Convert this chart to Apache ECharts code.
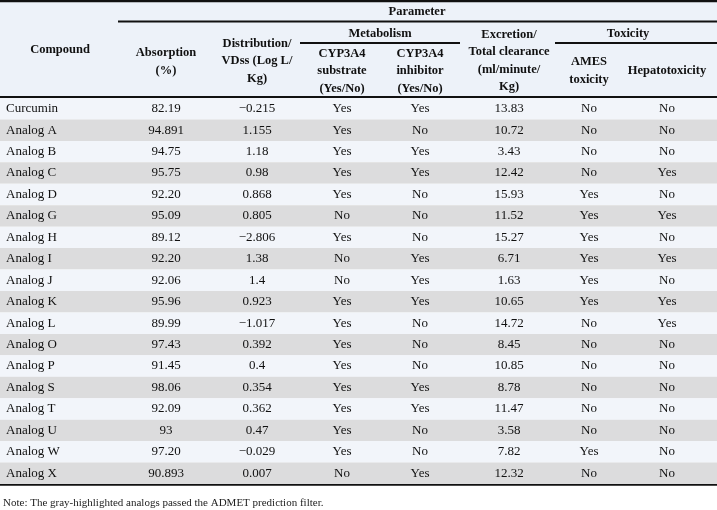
<!DOCTYPE html>
<html><head><meta charset="utf-8">
<script src="https://cdn.jsdelivr.net/npm/echarts@6/dist/echarts.min.js"></script>
<style>html,body{margin:0;padding:0;background:#fff}#c{width:717px;height:510px}</style>
</head><body><div id="c"></div>
<script>
const compounds=["Curcumin","Analog A","Analog B","Analog C","Analog D","Analog G","Analog H","Analog I","Analog J","Analog K","Analog L","Analog O","Analog P","Analog S","Analog T","Analog U","Analog W","Analog X"];
const absorption=["82.19","94.891","94.75","95.75","92.20","95.09","89.12","92.20","92.06","95.96","89.99","97.43","91.45","98.06","92.09","93","97.20","90.893"];
const distribution=["\u22120.215","1.155","1.18","0.98","0.868","0.805","\u22122.806","1.38","1.4","0.923","\u22121.017","0.392","0.4","0.354","0.362","0.47","\u22120.029","0.007"];
const cypSubstrate=["Yes","Yes","Yes","Yes","Yes","No","Yes","No","No","Yes","Yes","Yes","Yes","Yes","Yes","Yes","Yes","No"];
const cypInhibitor=["Yes","No","Yes","Yes","No","No","No","Yes","Yes","Yes","No","No","No","Yes","Yes","No","No","Yes"];
const excretion=["13.83","10.72","3.43","12.42","15.93","11.52","15.27","6.71","1.63","10.65","14.72","8.45","10.85","8.78","11.47","3.58","7.82","12.32"];
const ames=["No","No","No","No","Yes","Yes","Yes","Yes","Yes","Yes","No","No","No","No","No","No","Yes","No"];
const hepato=["No","No","No","Yes","No","Yes","No","Yes","No","Yes","Yes","No","No","No","No","No","No","No"];
const highlighted=compounds.map((c,i)=>i%2===1);
const colX=[6,166,257,342,420,509,589,667];
const FONT='"Liberation Serif","DejaVu Serif",serif';
const cols=[compounds,absorption,distribution,cypSubstrate,cypInhibitor,excretion,ames,hepato];
const chart=echarts.init(document.getElementById('c'));
function ht(x,y,t,al){return {type:'text',left:null,x:x,y:y,style:{text:t,font:'bold 12.5px '+FONT,fill:'#111',align:al||'center',verticalAlign:'middle',lineHeight:17.5}};}
function ln(x1,y,x2,w){return {type:'line',shape:{x1:x1,y1:y,x2:x2,y2:y},style:{stroke:'#111',lineWidth:w}};}
chart.setOption({
  animation:false,
  grid:{left:0,right:0,top:98,bottom:26},
  xAxis:{type:'value',min:0,max:717,show:false},
  yAxis:{type:'category',data:compounds,inverse:true,show:false},
  graphic:[
    {type:'rect',shape:{x:0,y:0,width:717,height:97},style:{fill:'#edf2f9'},z:0},
    ln(0,1,717,2.5),
    ht(417,12,'Parameter'),
    ln(118,21.5,717,2),
    ht(380,34,'Metabolism'),
    ln(300,43,460,2),
    ht(628,34,'Toxicity'),
    ln(555,43,717,2),
    ht(60,50,'Compound'),
    ht(166,62,'Absorption\n(%)'),
    ht(257,61,'Distribution/\nVDss (Log L/\nKg)'),
    ht(342,71,'CYP3A4\nsubstrate\n(Yes/No)'),
    ht(420,71,'CYP3A4\ninhibitor\n(Yes/No)'),
    ht(509,61,'Excretion/\nTotal clearance\n(ml/minute/\nKg)'),
    ht(589,71,'AMES\ntoxicity'),
    ht(667,71,'Hepatotoxicity'),
    ln(0,97,717,2),
    ln(0,484.5,717,2.5),
    {type:'text',x:3,y:503,style:{text:'Note: The gray-highlighted analogs passed the ADMET prediction filter.',font:'11px '+FONT,fill:'#222',verticalAlign:'middle'}}
  ],
  series:[{
    type:'custom',
    data:compounds.map((c,i)=>[0,i]),
    encode:{x:0,y:1},
    renderItem:function(params,api){
      const i=api.value(1);
      const p=api.coord([0,i]);
      const h=api.size([0,1])[1];
      const children=[{type:'rect',shape:{x:0,y:p[1]-h/2,width:717,height:h},style:{fill:highlighted[i]?'#dcdcdd':'#f2f5fa'}}];
      cols.forEach((arr,k)=>{
        const q=api.coord([colX[k],i]);
        children.push({type:'text',x:q[0],y:q[1],style:{text:arr[i],font:'13px '+FONT,fill:'#111',align:k===0?'left':'center',verticalAlign:'middle'}});
      });
      return {type:'group',children:children};
    }
  }]
});
</script></body></html>
